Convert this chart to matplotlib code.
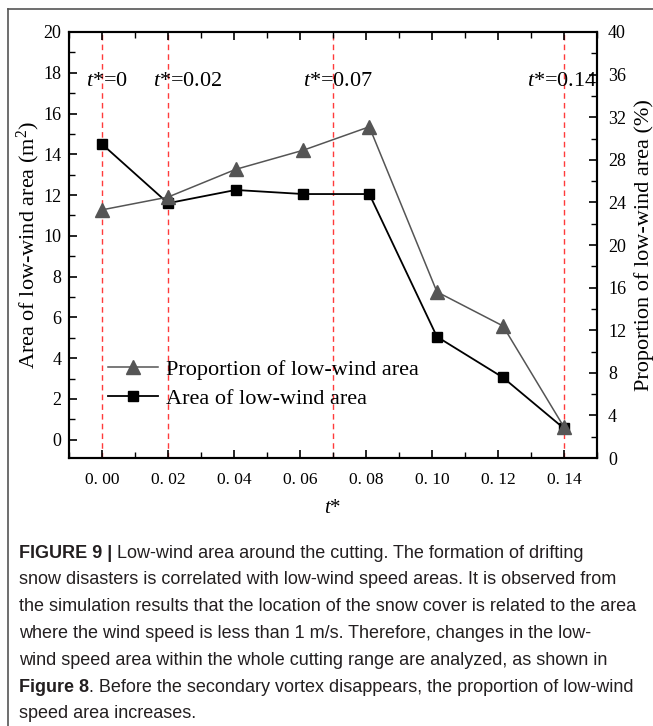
import matplotlib
matplotlib.use("Agg")
import matplotlib.pyplot as plt
from matplotlib.lines import Line2D
from matplotlib.ticker import MultipleLocator, FuncFormatter
from matplotlib.transforms import offset_copy

# data
t_star = [0.0, 0.02, 0.0405, 0.061, 0.081, 0.1015, 0.1215, 0.14]
area = [14.5, 11.6, 12.25, 12.05, 12.05, 5.05, 3.05, 0.55]
proportion = [23.3, 24.5, 27.1, 28.9, 31.1, 15.6, 12.4, 2.9]

marks = [0.0, 0.02, 0.07, 0.14]
mark_labels = ["$t$*=0", "$t$*=0.02", "$t$*=0.07", "$t$*=0.14"]
mark_label_x = [-0.0048, 0.0155, 0.0609, 0.1288]

caption = [
    ("FIGURE 9 |", " Low-wind area around the cutting. The formation of drifting"),
    ("", "snow disasters is correlated with low-wind speed areas. It is observed from"),
    ("", "the simulation results that the location of the snow cover is related to the area"),
    ("", "where the wind speed is less than 1 m/s. Therefore, changes in the low-"),
    ("", "wind speed area within the whole cutting range are analyzed, as shown in"),
    ("Figure 8", ". Before the secondary vortex disappears, the proportion of low-wind"),
    ("", "speed area increases."),
]

plt.rcParams['font.family'] = ['Liberation Serif', 'DejaVu Serif']
plt.rcParams['mathtext.fontset'] = 'custom'
plt.rcParams['mathtext.it'] = 'Liberation Serif:italic'
plt.rcParams['mathtext.rm'] = 'Liberation Serif'

W, H = 653, 726
fig = plt.figure(figsize=(W / 100, H / 100), dpi=100)

# page frame (left and top edges)
fig.add_artist(Line2D([8 / W, 8 / W], [0, 1 - 9 / H], color='#555555', lw=1.2))
fig.add_artist(Line2D([8 / W, 1], [1 - 9 / H, 1 - 9 / H], color='#555555', lw=1.2))

ax = fig.add_axes([69 / W, 1 - 458 / H, (597 - 69) / W, (458 - 32) / H])
ax2 = ax.twinx()

for m in marks:
    ax.axvline(m, color='#ff3b3b', lw=1.0, ls=(0, (4, 3)), zorder=1)
for x, lab in zip(mark_label_x, mark_labels):
    ax.text(x, 17.55, lab, fontsize=16, ha='left', va='center', zorder=5)

ln_area, = ax.plot(t_star, area, color='black', lw=1.3, marker='s', ms=7.5,
                   mfc='black', mec='black', label='Area of low-wind area')
ln_prop, = ax2.plot(t_star, proportion, color='#555555', lw=1.1, marker='^', ms=10,
                    mfc='#555555', mec='#555555', label='Proportion of low-wind area')

ax.set_xlim(-0.01, 0.15)
ax.set_ylim(-0.9, 20)
ax2.set_ylim(0, 40)

ax.xaxis.set_major_locator(MultipleLocator(0.02))
ax.xaxis.set_minor_locator(MultipleLocator(0.01))
ax.xaxis.set_major_formatter(FuncFormatter(lambda v, p: f"{v:.2f}".replace(".", ". ")))
ax.yaxis.set_major_locator(MultipleLocator(2))
ax.yaxis.set_minor_locator(MultipleLocator(1))
ax2.yaxis.set_major_locator(MultipleLocator(4))
ax2.yaxis.set_minor_locator(MultipleLocator(2))

ax.tick_params(axis='x', which='both', direction='in', top=True, labelsize=12.5, pad=10)
ax.tick_params(axis='y', which='both', direction='in', labelsize=13, pad=5.5)
ax2.tick_params(axis='y', which='both', direction='in', labelsize=13, pad=8)
for a in (ax, ax2):
    a.tick_params(which='major', length=6, width=1.2)
    a.tick_params(which='minor', length=4, width=1.0)
    for s in a.spines.values():
        s.set_linewidth(1.5)

ax.set_xlabel("$t$*", fontsize=15, labelpad=8)
ax.set_ylabel("Area of low-wind area (m$^2$)", fontsize=16, labelpad=1)
ax2.set_ylabel("Proportion of low-wind area (%)", fontsize=16, labelpad=6)

ax.legend([ln_prop, ln_area], [ln_prop.get_label(), ln_area.get_label()],
          loc='upper left', bbox_to_anchor=(0.074, 0.232), frameon=False,
          fontsize=16, handlelength=2.25, handletextpad=0.35, labelspacing=0.4,
          borderpad=0, borderaxespad=0)

# caption with bold lead-ins
renderer = fig.canvas.get_renderer()
x0 = 19 / W
for i, (bold, rest) in enumerate(caption):
    y = 1 - (553 + 26.8 * i) / H
    tr = fig.transFigure
    if bold:
        tb = fig.text(x0, y, bold, fontsize=13, fontweight='bold', color='#231f20',
                      family='Liberation Sans', va='center', ha='left')
        wpx = tb.get_window_extent(renderer).width
        tr = offset_copy(fig.transFigure, fig=fig, x=wpx, y=0, units='dots')
    fig.text(x0, y, rest, fontsize=13, color='#231f20', family='Liberation Sans',
             va='center', ha='left', transform=tr)

fig.savefig("out.png", dpi=100)
